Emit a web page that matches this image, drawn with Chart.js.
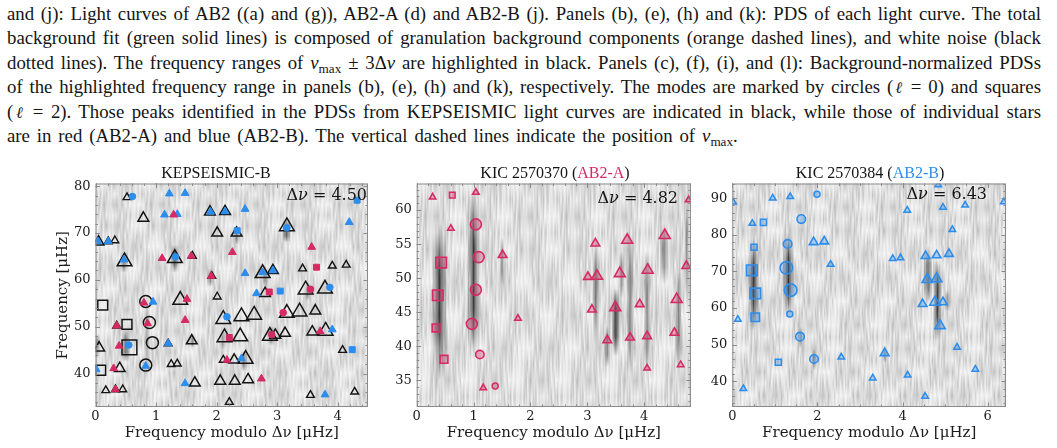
<!DOCTYPE html>
<html><head><meta charset="utf-8">
<script src="https://cdn.jsdelivr.net/npm/chart.js@4.4.1/dist/chart.umd.min.js"></script>
<style>
html,body{margin:0;padding:0;background:#fff;}
body{width:1057px;height:448px;position:relative;overflow:hidden;font-family:"Liberation Serif","Times New Roman",serif;color:#141414;}
.cap{position:absolute;left:7px;width:1034px;font-size:18.8px;line-height:24.4px;height:24.4px;text-align:justify;text-align-last:justify;}
.cap.last{text-align-last:left;word-spacing:2.2px;}
.cap sub{font-size:70%;vertical-align:-0.3em;line-height:0;}
.ell{font-family:"DejaVu Serif",serif;font-style:italic;font-size:16px;}
canvas{position:absolute;top:150px;}
.ttl{position:absolute;width:300px;text-align:center;font-size:16px;line-height:18px;top:164px;}
.dnu{position:absolute;font-family:"DejaVu Serif",serif;font-size:16px;line-height:18px;text-align:right;width:120px;}
</style></head>
<body>
<div class="cap" style="top:2px">and (j): Light curves of AB2 ((a) and (g)), AB2-A (d) and AB2-B (j). Panels (b), (e), (h) and (k): PDS of each light curve. The total</div>
<div class="cap" style="top:26.4px">background fit (green solid lines) is composed of granulation background components (orange dashed lines), and white noise (black</div>
<div class="cap" style="top:50.8px">dotted lines). The frequency ranges of <i>ν</i><sub>max</sub> ± 3Δ<i>ν</i> are highlighted in black. Panels (c), (f), (i), and (l): Background-normalized PDSs</div>
<div class="cap" style="top:75.2px">of the highlighted frequency range in panels (b), (e), (h) and (k), respectively. The modes are marked by circles (<span class="ell">ℓ</span> = 0) and squares</div>
<div class="cap" style="top:99.6px">(<span class="ell">ℓ</span> = 2). Those peaks identified in the PDSs from KEPSEISMIC light curves are indicated in black, while those of individual stars</div>
<div class="cap last" style="top:124px">are in red (AB2-A) and blue (AB2-B). The vertical dashed lines indicate the position of <i>ν</i><sub>max</sub>.</div>

<canvas id="c1" width="380" height="298" style="left:0px"></canvas>
<canvas id="c2" width="320" height="298" style="left:380px"></canvas>
<canvas id="c3" width="357" height="298" style="left:700px"></canvas>

<div class="ttl" style="left:66px">KEPSEISMIC-B</div>
<div class="ttl" style="left:405px">KIC 2570370 (<span style="color:#d62a63">AB2-A</span>)</div>
<div class="ttl" style="left:720px">KIC 2570384 (<span style="color:#2c8ded">AB2-B</span>)</div>
<div class="dnu" style="left:247px;top:186px">Δ<i>ν</i> = 4.50</div>
<div class="dnu" style="left:558px;top:189px">Δ<i>ν</i> = 4.82</div>
<div class="dnu" style="left:867px;top:185px">Δ<i>ν</i> = 6.43</div>

<script>
// ================= DATA =================
// Panel 1: KEPSEISMIC-B  (x: frequency modulo Δν [μHz], y: frequency [μHz])
const deltaNu1 = 4.50;
const kepTriLarge = [[3.16,71.4],[0.48,63.9],[1.31,64.6],[2.76,61.4],[3.47,57.9],[3.79,58.1],[1.40,55.7],[2.11,51.6],[2.41,52.2],[2.62,52.5],[3.16,52.9],[3.37,53.2],[2.13,47.7],[2.39,47.9],[2.88,48.0],[3.80,49.1],[2.48,43.1]];
const kepTriMed = [[0.79,73.2],[1.89,74.5],[2.14,74.6],[2.01,70.0],[2.33,70.0],[0.05,68.1],[2.93,62.0],[2.80,57.1],[3.63,53.4],[1.59,47.0],[3.13,48.6],[3.58,48.9],[0.40,41.1],[2.29,42.9],[1.64,38.0],[2.06,38.4],[2.30,38.4],[2.52,38.7],[0.06,45.5],[2.97,48.2]];
const kepTriSmall = [[0.52,77.6],[0.21,68.2],[0.32,68.4],[1.60,65.1],[3.42,62.4],[3.91,63.0],[4.14,63.2],[2.01,56.4],[1.25,42.0],[1.35,42.1],[2.11,42.9],[4.08,45.0],[0.17,36.4],[0.33,36.6],[0.45,36.6],[2.21,33.9],[3.55,35.4],[4.28,36.1],[1.92,60.8],[0.35,50.2],[1.20,46.4]];
const kepCircle = [[0.83,55.4],[0.89,50.9],[0.94,46.6],[0.83,41.8]];
const kepSquare = [[0.12,54.6],[0.52,50.5],[0.085,40.7]];
const kepSquareLarge = [[0.56,45.6]];
const aTri1 = [[1.29,73.9],[1.10,64.6],[1.58,65.1],[2.26,65.9],[3.57,67.0],[1.91,60.8],[0.80,55.1],[1.51,55.9],[0.86,50.7],[0.35,50.2],[1.48,51.4],[0.39,45.9],[3.71,49.0],[0.30,41.1],[2.17,42.9],[0.33,36.6],[2.74,38.9]];
const aCircle1 = [[3.55,58.0],[3.10,53.0],[2.91,48.3]];
const aSquare1 = [[3.65,62.7],[2.87,57.4],[2.21,47.7]];
const bTri1 = [[1.22,78.4],[1.48,78.5],[1.14,73.9],[1.35,74.0],[1.90,74.5],[2.14,74.6],[2.47,75.1],[4.19,72.3],[0.04,68.2],[0.21,68.2],[0.47,64.3],[2.47,61.4],[2.76,61.6],[2.93,62.0],[2.66,57.1],[0.95,55.3],[1.20,46.4],[3.91,49.4],[0.01,40.9],[0.83,41.6],[2.41,43.2],[1.48,37.9],[3.79,35.5]];
const bCircle1 = [[0.61,77.8],[3.16,71.1],[1.32,64.9],[3.87,58.4],[2.17,52.1],[0.55,46.1]];
const bSquare1 = [[4.32,77.0],[2.34,70.5],[3.05,57.6],[4.24,45.1]];
// dark ridges of the background-normalised PDS: [x, yLow, yHigh, halfWidth, power level]
const heat1 = [[0.50,42.5,49.5,0.06,0.6],[0.02,43,48.5,0.05,0.5],[1.31,61.5,67.5,0.06,0.7],[3.15,68,73,0.06,0.75],[2.90,46,50,0.06,0.55],[2.45,40.5,45,0.05,0.5],[1.60,45.5,48.5,0.05,0.4],[2.33,67.5,71.5,0.05,0.45],[1.90,58.5,62.5,0.05,0.4],[0.47,61.5,66,0.06,0.5],[2.10,45,49,0.05,0.35],[2.80,58.5,63,0.06,0.35],[0.85,39,57,0.05,0.3],[3.50,55.5,59.5,0.05,0.4]];

// Panel 2: KIC 2570370 (AB2-A)
const deltaNu2 = 4.82;
const aTriLarge2 = [[3.70,55.6],[4.36,56.3],[3.17,50.3],[3.57,50.7],[4.06,51.2],[4.57,46.9],[3.49,45.7]];
const aTriMed2 = [[3.14,55.1],[1.51,53.4],[3.01,50.2],[4.74,51.8],[3.92,46.2],[3.08,45.4],[4.53,42.0],[4.05,41.5],[3.75,41.3],[3.35,40.9]];
const aTriSmall2 = [[0.28,61.9],[1.04,62.6],[4.78,61.5],[0.60,57.3],[1.78,44.1],[4.64,37.3],[4.05,36.8],[1.17,33.9]];
const aCircLarge2 = [[1.04,57.9],[1.09,53.1],[1.04,48.3],[0.97,43.3]];
const aCircMed2 = [[1.11,38.8]];
const aCircSmall2 = [[1.38,34.2]];
const aSqLarge2 = [[0.43,52.3],[0.37,47.5]];
const aSqMed2 = [[0.34,42.7],[0.48,38.1]];
const aSqSmall2 = [[0.625,62.2]];
const heat2 = [[0.40,35,58,0.12,0.7],[0.40,40,55,0.05,0.4],[1.00,38,63,0.1,0.65],[1.00,40,60,0.04,0.5],[3.50,38.5,48.5,0.06,1.0],[3.75,36,57,0.05,0.55],[3.15,40,56,0.05,0.55],[4.60,37,51,0.05,0.55],[4.05,36,54,0.05,0.5],[4.35,49,58,0.07,0.45],[1.50,49,56,0.04,0.45],[3.35,37,43,0.05,0.5],[3.60,47,54,0.05,0.45],[4.75,47,63,0.04,0.45]];

// Panel 3: KIC 2570384 (AB2-B)
const deltaNu3 = 6.43;
const bTriLarge3 = [[4.58,67.8],[4.80,68.0],[4.76,61.6],[4.88,55.2]];
const bTriMed3 = [[1.91,78.0],[2.16,78.2],[4.54,74.2],[4.80,74.4],[5.09,74.8],[4.47,61.1],[4.95,61.6],[3.58,47.7]];
const bTriSmall3 = [[0.02,88.9],[0.95,90.0],[1.36,90.4],[4.84,93.6],[4.11,86.7],[4.95,87.5],[5.47,88.1],[6.38,89.0],[0.47,83.1],[5.17,81.4],[3.77,73.5],[3.95,73.7],[2.31,71.9],[0.13,56.9],[5.28,49.3],[2.56,46.6],[5.71,43.3],[4.12,41.7],[3.30,40.9],[0.26,38.0],[4.53,35.9]];
const bCircLarge3 = [[1.27,71.0],[1.37,64.9]];
const bCircMed3 = [[1.62,84.3],[1.30,77.5],[1.59,52.2],[1.92,46.1]];
const bCircSmall3 = [[1.99,91.1],[1.35,58.4]];
const bSqLarge3 = [[0.46,70.3],[0.54,64.0]];
const bSqMed3 = [[0.54,57.5]];
const bSqSmall3 = [[0.73,83.4],[0.51,76.6],[1.08,45.2]];
const heat3 = [[0.50,54,79,0.12,0.7],[0.50,58,76,0.05,0.5],[1.32,57,81,0.12,0.7],[1.32,60,78,0.05,0.5],[4.60,61,77,0.09,0.6],[4.82,51,73,0.09,0.7],[4.82,56,68,0.04,0.5],[1.92,43,49,0.05,0.5],[1.60,49,55,0.05,0.4],[5.05,59,65,0.05,0.4],[3.58,45,50,0.05,0.4]];

// axis ranges
const xRange1 = [0, deltaNu1], yRange1 = [32.86, 80.57];
const xRange2 = [0, deltaNu2], yRange2 = [31.1, 63.9];
const xRange3 = [0, deltaNu3], yRange3 = [33.0, 94.0];

// ================= STYLE / RENDERING =================
const K = '#141414', RED = '#d62a63', BLUE = '#2c8ded';
const RED_F = 'rgba(214,42,99,0.32)', BLUE_F = 'rgba(44,141,237,0.30)';
// decorative grain of the échelle image (style only)
const TEX = [0.05,0.18,0.02,0.10,0.26,0.04,0.12,0.00,0.20,0.07,0.15,0.03,0.22,0.09,0.01,0.17,0.06,0.28,0.11,0.02,0.14,0.08,0.24,0.03,0.13,0.19,0.00,0.10,0.06,0.21,0.04,0.16,0.27,0.05,0.09,0.01,0.18,0.12,0.03,0.23,0.07,0.15,0.02,0.11,0.20,0.06,0.13];
const TEX_OFF = [0,23,9,31,4,17,40,12,28,3,36,20,7,44,15,26,1,33,11,38];

const echelle = {
  id: 'echelle',
  beforeDatasetsDraw(chart, args, o) {
    const {ctx, chartArea: a, scales: {x, y}} = chart;
    ctx.save();
    ctx.beginPath(); ctx.rect(a.left, a.top, a.width, a.height); ctx.clip();
    ctx.fillStyle = '#f7f7f7'; ctx.fillRect(a.left, a.top, a.width, a.height);
    const rowPx = Math.abs(y.getPixelForValue(y.min) - y.getPixelForValue(y.min + o.row));
    for (let layer = 0; layer < 2; layer++) {
      let band = 0;
      for (let yy = a.top - rowPx * (0.5 + layer * 0.5); yy < a.bottom; yy += rowPx, band++) {
        const off = TEX_OFF[(band + layer * 7) % TEX_OFF.length];
        for (let c = 0; c < Math.ceil(a.width); c++) {
          const t = TEX[(c * (layer ? 11 : 7) + off) % TEX.length] * 0.95;
          const g = ctx.createLinearGradient(0, yy, 0, yy + rowPx);
          g.addColorStop(0, 'rgba(0,0,0,0)');
          g.addColorStop(0.5, 'rgba(0,0,0,' + t.toFixed(3) + ')');
          g.addColorStop(1, 'rgba(0,0,0,0)');
          ctx.fillStyle = g;
          ctx.fillRect(a.left + c, yy, 1, rowPx);
        }
      }
    }
    for (const [xv, y0, y1, hw, lev] of o.heat) {
      const px0 = x.getPixelForValue(xv - hw), px1 = x.getPixelForValue(xv + hw);
      const pyT = y.getPixelForValue(y1), pyB = y.getPixelForValue(y0);
      for (let k = 0; k < 3; k++) {
        const al = lev * (k === 2 ? 0.5 : 0.3);
        const g = ctx.createLinearGradient(0, pyT, 0, pyB);
        g.addColorStop(0, 'rgba(0,0,0,0)');
        g.addColorStop(0.3, 'rgba(0,0,0,' + al + ')');
        g.addColorStop(0.7, 'rgba(0,0,0,' + al + ')');
        g.addColorStop(1, 'rgba(0,0,0,0)');
        const s = (px1 - px0) * k * 0.22;
        ctx.fillStyle = g;
        ctx.fillRect(px0 + s, pyT, px1 - px0 - 2 * s, pyB - pyT);
      }
    }
    ctx.restore();
  },
  afterDatasetsDraw(chart, args, o) {
    const {ctx, chartArea: a, scales: {x, y}} = chart;
    ctx.save();
    ctx.strokeStyle = '#8a8a8a'; ctx.lineWidth = 1;
    ctx.strokeRect(a.left + 0.5, a.top + 0.5, a.width - 1, a.height - 1);
    const tk = (scale, step, len, horiz) => {
      const i0 = Math.ceil(scale.min / step - 1e-6), i1 = Math.floor(scale.max / step + 1e-6);
      for (let i = i0; i <= i1; i++) {
        const p = Math.round(scale.getPixelForValue(i * step)) + 0.5;
        ctx.beginPath();
        if (horiz) { ctx.moveTo(p, a.bottom); ctx.lineTo(p, a.bottom - len); ctx.moveTo(p, a.top); ctx.lineTo(p, a.top + len); }
        else { ctx.moveTo(a.left, p); ctx.lineTo(a.left + len, p); ctx.moveTo(a.right, p); ctx.lineTo(a.right - len, p); }
        ctx.stroke();
      }
    };
    tk(x, o.xStep, 4.5, true); tk(x, o.xStep / o.xDiv, 2.5, true);
    tk(y, o.yStep, 4.5, false); tk(y, o.yStep / o.yDiv, 2.5, false);
    ctx.restore();
  }
};

function ds(data, style, r, edge, fill, lw, order) {
  return { data: data.map(p => ({x: p[0], y: p[1]})), pointStyle: style, pointRadius: r, pointHoverRadius: r,
           borderColor: edge, backgroundColor: fill, pointBorderWidth: lw, borderWidth: lw, order: order, clip: 0 };
}

const tickFont = {family: 'DejaVu Serif', size: 13};
const titleFont = {family: 'DejaVu Serif', size: 15};

function makeChart(id, p) {
  return new Chart(document.getElementById(id), {
    type: 'scatter',
    data: {datasets: p.sets},
    options: {
      responsive: false, animation: false, devicePixelRatio: 1,
      layout: {padding: p.pad},
      events: [],
      plugins: {legend: {display: false}, tooltip: {enabled: false},
        echelle: {heat: p.heat, row: p.row, xStep: p.xStep, xDiv: p.xDiv, yStep: p.yStep, yDiv: p.yDiv}},
      scales: {
        x: {type: 'linear', position: 'bottom', min: p.xr[0], max: p.xr[1],
            grid: {display: false, drawTicks: false}, border: {display: false},
            ticks: {stepSize: p.xStep, includeBounds: false, padding: 2, color: '#1a1a1a', font: tickFont, maxRotation: 0, autoSkip: false,
                    callback: v => String(Math.round(v))},
            title: {display: true, text: 'Frequency modulo Δν [μHz]', color: '#1a1a1a', font: titleFont, padding: {top: 0, bottom: 6}},
            afterFit: s => { s.height = 41; }},
        y: {type: 'linear', position: 'left', min: p.yr[0], max: p.yr[1],
            grid: {display: false, drawTicks: false}, border: {display: false},
            ticks: {stepSize: p.yStep, includeBounds: false, padding: 5, color: '#1a1a1a', font: tickFont, autoSkip: false,
                    callback: v => String(Math.round(v))},
            title: {display: !!p.yTitle, text: p.yTitle || '', color: '#1a1a1a', font: titleFont, padding: {top: 54, bottom: 0}},
            afterFit: s => { s.width = p.yw; }}
      }
    },
    plugins: [echelle]
  });
}

const NONE = 'rgba(0,0,0,0)';
makeChart('c1', {
  xr: xRange1, yr: yRange1, xStep: 1, xDiv: 5, yStep: 10, yDiv: 5, row: deltaNu1, heat: heat1,
  pad: {left: 0, right: 7, top: 33.5, bottom: 0}, yw: 95.5, yTitle: 'Frequency [μHz]',
  sets: [
    ds(aTri1, 'triangle', 4.5, RED, RED, 1, 0),
    ds(aCircle1, 'circle', 3.3, RED, RED, 1, 0),
    ds(aSquare1, 'rect', 4.2, RED, RED, 1, 0),
    ds(bTri1, 'triangle', 4.5, BLUE, BLUE, 1, 0),
    ds(bCircle1, 'circle', 3.3, BLUE, BLUE, 1, 0),
    ds(bSquare1, 'rect', 4.2, BLUE, BLUE, 1, 0),
    ds(kepTriLarge, 'triangle', 8.5, K, NONE, 1.5, 1),
    ds(kepTriMed, 'triangle', 6.2, K, NONE, 1.5, 1),
    ds(kepTriSmall, 'triangle', 4.5, K, NONE, 1.4, 1),
    ds(kepCircle, 'circle', 6, K, NONE, 1.5, 1),
    ds(kepSquare, 'rect', 7, K, NONE, 1.5, 1),
    ds(kepSquareLarge, 'rect', 10.5, K, NONE, 1.5, 1)
  ]
});
makeChart('c2', {
  xr: xRange2, yr: yRange2, xStep: 1, xDiv: 5, yStep: 5, yDiv: 5, row: deltaNu2, heat: heat2,
  pad: {left: 0, right: 8.3, top: 33.5, bottom: 0}, yw: 36.7,
  sets: [
    ds(aTriLarge2, 'triangle', 6.3, RED, RED_F, 1.6, 0),
    ds(aTriMed2, 'triangle', 5, RED, RED_F, 1.6, 0),
    ds(aTriSmall2, 'triangle', 3.8, RED, RED_F, 1.5, 0),
    ds(aCircLarge2, 'circle', 5.5, RED, RED_F, 1.6, 0),
    ds(aCircMed2, 'circle', 4.2, RED, RED_F, 1.6, 0),
    ds(aCircSmall2, 'circle', 3, RED, RED_F, 1.5, 0),
    ds(aSqLarge2, 'rect', 7.5, RED, RED_F, 1.6, 0),
    ds(aSqMed2, 'rect', 5.5, RED, RED_F, 1.6, 0),
    ds(aSqSmall2, 'rect', 4, RED, RED_F, 1.5, 0)
  ]
});
makeChart('c3', {
  xr: xRange3, yr: yRange3, xStep: 2, xDiv: 4, yStep: 10, yDiv: 5, row: deltaNu3, heat: heat3,
  pad: {left: 0, right: 51, top: 33.5, bottom: 0}, yw: 32.3,
  sets: [
    ds(bTriLarge3, 'triangle', 6, BLUE, BLUE_F, 1.6, 0),
    ds(bTriMed3, 'triangle', 5, BLUE, BLUE_F, 1.6, 0),
    ds(bTriSmall3, 'triangle', 3.8, BLUE, BLUE_F, 1.5, 0),
    ds(bCircLarge3, 'circle', 6.3, BLUE, BLUE_F, 1.6, 0),
    ds(bCircMed3, 'circle', 4.3, BLUE, BLUE_F, 1.6, 0),
    ds(bCircSmall3, 'circle', 3, BLUE, BLUE_F, 1.5, 0),
    ds(bSqLarge3, 'rect', 7.5, BLUE, BLUE_F, 1.6, 0),
    ds(bSqMed3, 'rect', 6, BLUE, BLUE_F, 1.6, 0),
    ds(bSqSmall3, 'rect', 4.3, BLUE, BLUE_F, 1.5, 0)
  ]
});
</script>
</body></html>
